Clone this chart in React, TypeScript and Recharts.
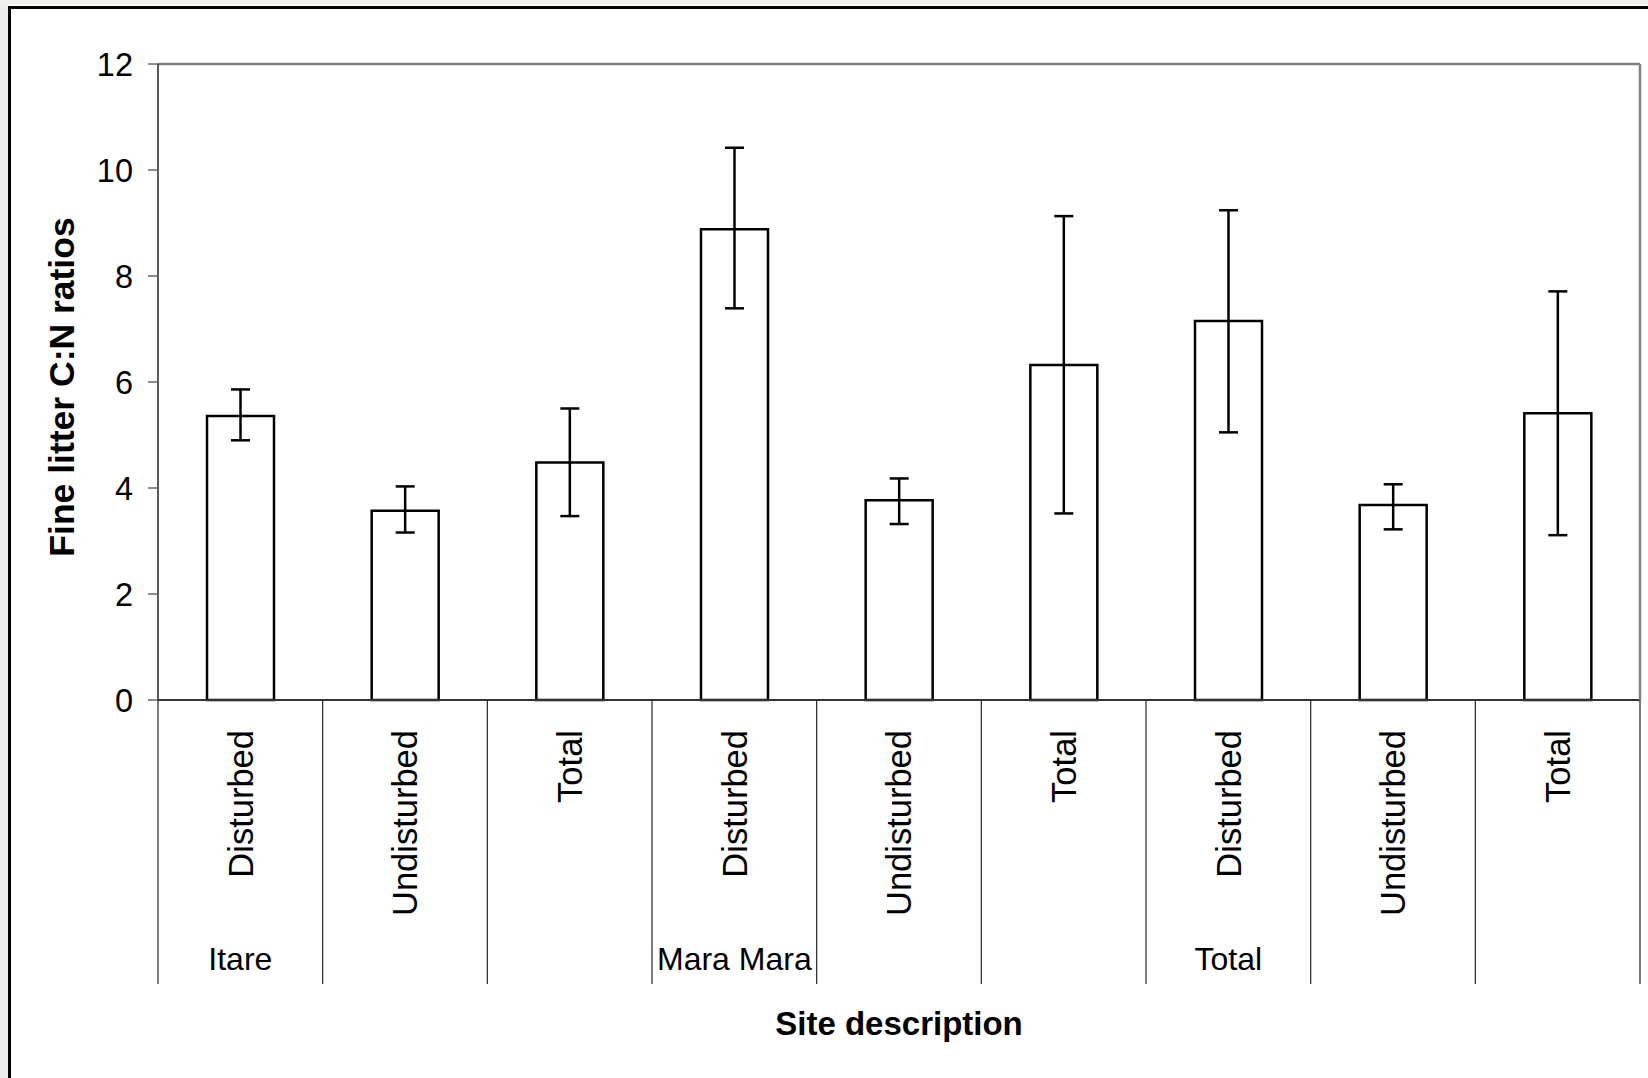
import React from 'react'
import { BarChart, Bar, XAxis, YAxis, ErrorBar, ReferenceLine, Label } from 'recharts'

// values
const categories = [
  'Disturbed', 'Undisturbed', 'Total',
  'Disturbed', 'Undisturbed', 'Total',
  'Disturbed', 'Undisturbed', 'Total',
]
const siteLabels = ['Itare', '', '', 'Mara Mara', '', '', 'Total', '', '']
const cnRatio = [5.36, 3.57, 4.48, 8.88, 3.77, 6.32, 7.15, 3.68, 5.41]
const errLow = [0.46, 0.41, 1.01, 1.49, 0.45, 2.8, 2.1, 0.46, 2.3]
const errHigh = [0.5, 0.46, 1.02, 1.54, 0.41, 2.81, 2.09, 0.39, 2.3]
const yTicks = [0, 2, 4, 6, 8, 10, 12]

const W = 1648
const H = 1078
const FONT = "'Liberation Sans', Arial, Helvetica, sans-serif"
const PLOT_LEFT = 158
const PLOT_RIGHT = 8
const BAND = (W - PLOT_LEFT - PLOT_RIGHT) / categories.length

const data = categories.map((c, i) => ({
  key: `c${i}`,
  category: c,
  site: siteLabels[i],
  value: cnRatio[i],
  err: [errLow[i], errHigh[i]],
}))

const CategoryTick = (props: any) => {
  const { x, y, index } = props
  const row = data[index]
  const sepBottom = y + 284
  return (
    <g>
      <line x1={x - BAND / 2} y1={y} x2={x - BAND / 2} y2={sepBottom} stroke="#333" strokeWidth={1.3} />
      {index === data.length - 1 && (
        <line x1={x + BAND / 2} y1={y} x2={x + BAND / 2} y2={sepBottom} stroke="#333" strokeWidth={1.3} />
      )}
      <text
        x={x}
        y={y + 30}
        dy="0.36em"
        transform={`rotate(-90 ${x} ${y + 30})`}
        textAnchor="end"
        fontSize={34.5}
        fontFamily={FONT}
        fill="#000"
      >
        {row.category}
      </text>
      {row.site && (
        <text x={x} y={y + 270} textAnchor="middle" fontSize={32} fontFamily={FONT} fill="#000">
          {row.site}
        </text>
      )}
    </g>
  )
}

const App: React.FC = () => {
  return (
    <div style={{ position: 'absolute', left: 0, top: 0, width: W, height: H, background: '#fff' }}>
      <BarChart width={W} height={H} data={data} margin={{ top: 64, right: 0, bottom: 88, left: 0 }}>
        <XAxis
          dataKey="key"
          height={290}
          interval={0}
          tickLine={false}
          tickSize={0}
          tickMargin={0}
          axisLine={{ stroke: '#333', strokeWidth: 2 }}
          tick={<CategoryTick />}
        >
          <Label
            content={({ viewBox }: any) => (
              <text
                x={viewBox.x + viewBox.width / 2}
                y={viewBox.y + 335}
                textAnchor="middle"
                fontSize={33}
                fontWeight="bold"
                fontFamily={FONT}
                fill="#000"
              >
                Site description
              </text>
            )}
          />
        </XAxis>
        <YAxis
          width={PLOT_LEFT}
          domain={[0, 12]}
          ticks={yTicks}
          interval={0}
          tickSize={10}
          tickMargin={15}
          tickLine={{ stroke: '#666', strokeWidth: 1.5 }}
          axisLine={{ stroke: '#222', strokeWidth: 1.5 }}
          tick={{ fontSize: 32.5, fill: '#000', fontFamily: FONT }}
        >
          <Label
            content={({ viewBox }: any) => {
              const lx = 74
              const ly = viewBox.y + viewBox.height / 2 + 5
              return (
                <text
                  x={lx}
                  y={ly}
                  transform={`rotate(-90 ${lx} ${ly})`}
                  textAnchor="middle"
                  fontSize={35.5}
                  fontWeight="bold"
                  fontFamily={FONT}
                  fill="#000"
                >
                  Fine litter C:N ratios
                </text>
              )
            }}
          />
        </YAxis>
        <YAxis
          yAxisId="right"
          orientation="right"
          width={PLOT_RIGHT}
          domain={[0, 12]}
          tick={false}
          tickLine={false}
          axisLine={{ stroke: '#808080', strokeWidth: 2.5 }}
        />
        <ReferenceLine y={12} stroke="#808080" strokeWidth={2.5} />
        <Bar dataKey="value" barSize={67} fill="#fff" stroke="#000" strokeWidth={2.5} isAnimationActive={false}>
          <ErrorBar dataKey="err" width={9.5} stroke="#000" strokeWidth={2.5} isAnimationActive={false} />
        </Bar>
      </BarChart>
      <svg
        width={W}
        height={H}
        style={{ position: 'absolute', left: 0, top: 0, pointerEvents: 'none' }}
      >
        <rect x={0} y={0} width={8} height={H} fill="#ececec" />
        <rect x={0} y={0} width={W} height={5} fill="#f2f0ec" />
        <line x1={8} y1={7.5} x2={W} y2={7.5} stroke="#000" strokeWidth={3} />
        <line x1={9.5} y1={6} x2={9.5} y2={H} stroke="#000" strokeWidth={3} />
      </svg>
    </div>
  )
}

export default App
